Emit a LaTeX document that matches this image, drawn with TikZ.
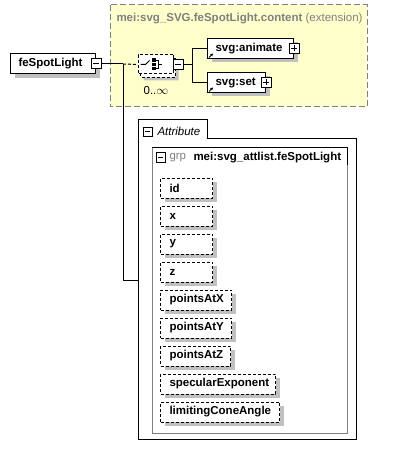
\documentclass[tikz,border=0pt]{standalone}
\usepackage{fontspec}
\setmainfont{Liberation Sans}
\usetikzlibrary{positioning}
\usetikzlibrary{shadows}
\usetikzlibrary{shapes.misc}
\usetikzlibrary{arrows.meta}
\definecolor{xsyellow}{RGB}{255,255,204}
\definecolor{xsgray}{RGB}{128,128,128}
\definecolor{xsshadow}{RGB}{192,192,192}
\newcommand{\xsfont}{\fontsize{11.5}{13}\selectfont}
\tikzset{elem/.style={draw,fill=white,anchor=west,minimum height=20pt,inner xsep=8pt,inner ysep=0pt,align=left,font=\xsfont\bfseries,drop shadow={shadow xshift=4pt,shadow yshift=-4pt,fill=xsshadow,opacity=1}}}
\tikzset{attr/.style={elem,dash pattern=on 3pt off 2pt,inner xsep=9pt}}
\tikzset{lbl/.style={anchor=west,inner sep=0pt,font=\xsfont}}
\tikzset{sign/.style={draw,fill=white,minimum size=10pt,inner sep=0pt}}
\tikzset{minus/.style={sign,path picture={\draw ([xshift=2pt]path picture bounding box.west) -- ([xshift=-2pt]path picture bounding box.east);}}}
\tikzset{plus/.style={sign,path picture={\draw ([xshift=2pt]path picture bounding box.west) -- ([xshift=-2pt]path picture bounding box.east);
  \draw ([yshift=2pt]path picture bounding box.south) -- ([yshift=-2pt]path picture bounding box.north);}}}
\tikzset{seqbox/.style={chamfered rectangle,chamfered rectangle xsep=4pt,draw,fill=white,dash pattern=on 3pt off 2pt,minimum width=35pt,minimum height=19pt,inner sep=0pt}}
\tikzset{refarrow/.style={-{Stealth[length=3pt,width=3pt]},line width=0.8pt}}

\begin{document}
\begin{tikzpicture}[x=1pt,y=-1pt,line width=1pt]
\useasboundingbox (0,0) rectangle (409,457);

% extension box
\draw[xsgray,fill=xsyellow,dash pattern=on 6pt off 3pt] (110,5) rectangle (367,107);
\node[lbl,text=xsgray] (exttitle) at (116,19) {\textbf{mei:svg\_SVG.feSpotLight.content} (extension)};

% element
\node[elem,text width=69pt] (spot) at (10,64) {feSpotLight};
\node[minus] (spotm) at (spot.east) {};

% sequence
\node[seqbox,drop shadow={shadow xshift=3pt,shadow yshift=-3pt,fill=xsshadow,opacity=1}] (seq2) at (158,68) {};
\node[seqbox] (seq) at (155.5,64.5) {};
\begin{scope}[shift={(seq.center)}]
\draw (-15,0) -- (-10,0) -- (-6,-4);
\fill (-3.5,-6) rectangle (0,-2.5);
\fill (-3.5,-1.75) rectangle (0,1.75);
\fill (-3.5,2.5) rectangle (0,6);
\draw (0,-4.25) -- (2.5,-4.25) -- (2.5,4.25) -- (0,4.25);
\draw (2.5,0) -- (6,0);
\end{scope}
\node[minus,right=-1pt of seq] (seqm) {};
\node[lbl,below=8pt of seq2.south,anchor=north,xshift=-2pt] (seqcard) {0..$\infty$};

\coordinate (split) at (123,64);
\draw (spotm) -- (split);
\draw[dash pattern=on 3pt off 2pt] (split) -- (seq.west);

% children
\node[elem,text width=70pt] (anim) at (207,48.5) {svg:animate};
\node[plus] (animp) at (anim.east) {};
\node[elem,text width=42pt] (set) at (207,82.5) {svg:set};
\node[plus] (setp) at (set.east) {};
\draw[refarrow] ([shift={(2,-1.5)}]anim.south west) -- ++(4,-4);
\draw[refarrow] ([shift={(2,-1.5)}]set.south west) -- ++(4,-4);

\coordinate[right=9pt of seqm] (fork);
\draw (seqm) -- (fork);
\draw (anim.west) -| (fork) |- (set.west);

% attributes
\draw[fill=white] (138,439) -- (138,120) -- (207,120) -- (207,139) -- (356,139) -- (356,439) -- cycle;
\node[minus,minimum size=9pt] (attm) at (147.5,132) {};
\node[lbl,font=\xsfont\itshape] (atttitle) at (157,131) {Attribute};
\coordinate (attin) at (138,280);
\draw (split) |- (attin);

\draw[xsgray] (152,148) rectangle (347,433);
\draw (152,148) -- (347,148) -- (347,165);
\node[minus,minimum size=9pt] (grpm) at (160.5,157.5) {};
\node[lbl,text=xsgray] (grplbl) at (169,158) {grp};
\node[lbl,font=\xsfont\bfseries] (grpname) at (193,158) {mei:svg\_attlist.feSpotLight};

\foreach \aname/\tw [count=\i from 0] in {id/34,x/34,y/34,z/34,pointsAtX/53,pointsAtY/53,pointsAtZ/52,specularExponent/97,limitingConeAngle/101}
  \node[attr,text width=\tw pt] (att\i) at (160,188+28*\i) {\aname};
\end{tikzpicture}
\end{document}
